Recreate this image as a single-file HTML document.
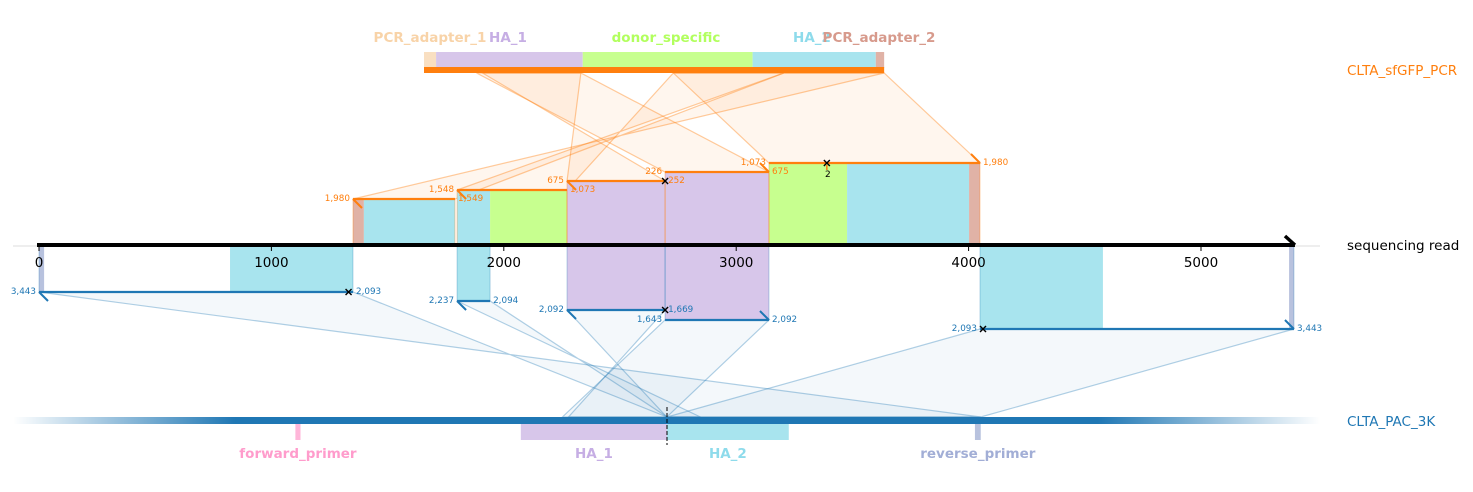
<!DOCTYPE html>
<html><head><meta charset="utf-8"><style>
html,body{margin:0;padding:0;background:#fff;}
svg{display:block;font-family:"DejaVu Sans","Liberation Sans",sans-serif;}
</style></head><body>
<svg id="chart" width="1473" height="492" viewBox="0 0 1473 492" xmlns="http://www.w3.org/2000/svg"></svg>
<script>
// ---- data ----
const axisTicks = [0, 1000, 2000, 3000, 4000, 5000];
const readLength = 5400;
const topFeatNames = ["PCR_adapter_1","HA_1","donor_specific","HA_2","PCR_adapter_2"];
const topFeatStart = [0, 52, 683, 1414, 1944];
const topFeatEnd   = [52, 683, 1414, 1944, 1980];
const topFeatLabelX = [430, 508, 666, 812, 879];
const botFeatNames = ["forward_primer","HA_1","HA_2","reverse_primer"];
const botFeatStart = [494, 1464, 2093, 3418];
const botFeatEnd   = [516, 2093, 2617, 3443];
const topReadStart = [1351, 1799, 2272, 2694, 3141];
const topReadEnd   = [1790, 2272, 2694, 3141, 4049];
const topRefStart  = [1980, 1548, 675, 226, 1073];
const topRefEnd    = [1549, 1073, 252, 675, 1980];
const topStartLbl = ["1,980","1,548","675","226","1,073"];
const topEndLbl   = ["1,549","1,073","252","675","1,980"];
const botReadStart = [0, 1799, 2272, 2694, 4049];
const botReadEnd   = [1351, 1941, 2694, 3141, 5400];
const botRefStart  = [3443, 2237, 2092, 1643, 2093];
const botRefEnd    = [2093, 2094, 1669, 2092, 3443];
const botStartLbl = ["3,443","2,237","2,092","1,643","2,093"];
const botEndLbl   = ["2,093","2,094","1,669","2,092","3,443"];
const topFillStart = [1351, 1398, 1799, 1941, 2272, 2694, 3141, 3477, 4002];
const topFillEnd   = [1398, 1790, 1941, 2272, 2694, 3141, 3477, 4002, 4049];
const topFillFeat  = [4, 3, 3, 2, 1, 1, 2, 3, 4];
const botFillStart = [0, 822, 1799, 2272, 2694, 4049, 5379];
const botFillEnd   = [22, 1351, 1941, 2694, 3141, 4578, 5400];
const botFillFeat  = [3, 2, 2, 1, 1, 2, 3];
const topMarkRead = [3390, 2694];
const topMarkRow  = [4, 2];
const botMarkRead = [1332, 2694, 4062];
const botMarkRow  = [0, 2, 4];

// ---- scales ----
const xs = v => 39 + v * 0.2324;
const xTopRef = r => 424 + r * 0.2324;
const xBotRef = r => 667 + (r - 2093) * 0.2324;
const axisY = 245, topRefY = 73, botRefY = 417;
const topRowY = [199, 190, 181, 172, 163];
const botRowY = [292, 301, 310, 320, 329];
const topColors = ["#f9dfc1","#d7c6ea","#c7ff8f","#a8e4ee","#e0b2a6"];
const topLblColors = ["#f8d3a8","#c6aee4","#b2ff5e","#8edbeb","#d79a8c"];
const botColors = ["#ffb6d9","#d7c6ea","#a8e4ee","#b8c2de"];
const botLblColors = ["#ff9ccc","#c6aee4","#8edbeb","#a2aed6"];
const ORANGE = "#ff7f0e", BLUE = "#1f77b4";

const svg = document.getElementById('chart');
const NS = "http://www.w3.org/2000/svg";
function mk(tag, attrs, parent) {
  const e = document.createElementNS(NS, tag);
  for (const k in attrs) e.setAttribute(k, attrs[k]);
  (parent || svg).appendChild(e);
  return e;
}
function txt(x, y, s, size, fill, anchor, parent) {
  const t = mk('text', {x: x, y: y, 'font-size': size, fill: fill, 'text-anchor': anchor || 'start', 'dominant-baseline': 'central'}, parent);
  t.textContent = s;
  return t;
}

const defs = mk('defs', {});
const lg = mk('linearGradient', {id: 'bg', x1: '0', x2: '1', y1: '0', y2: '0'}, defs);
mk('stop', {offset: '0', 'stop-color': BLUE, 'stop-opacity': '0'}, lg);
mk('stop', {offset: '0.17', 'stop-color': BLUE, 'stop-opacity': '1'}, lg);
mk('stop', {offset: '0.83', 'stop-color': BLUE, 'stop-opacity': '1'}, lg);
mk('stop', {offset: '1', 'stop-color': BLUE, 'stop-opacity': '0'}, lg);

for (let i = 0; i < topReadStart.length; i++) {
  const p = mk('polygon', {points: `${xs(topReadStart[i])},${topRowY[i]} ${xs(topReadEnd[i])},${topRowY[i]} ${xTopRef(topRefEnd[i])},${topRefY} ${xTopRef(topRefStart[i])},${topRefY}`,
    fill: ORANGE, 'fill-opacity': 0.07, stroke: ORANGE, 'stroke-opacity': 0.4, 'stroke-width': 1.2});
  
  
}
for (let i = 0; i < botReadStart.length; i++) {
  const p = mk('polygon', {points: `${xs(botReadStart[i])},${botRowY[i]} ${xs(botReadEnd[i])},${botRowY[i]} ${xBotRef(botRefEnd[i])},${botRefY} ${xBotRef(botRefStart[i])},${botRefY}`,
    fill: BLUE, 'fill-opacity': 0.05, stroke: BLUE, 'stroke-opacity': 0.35, 'stroke-width': 1.2});
  
  
}

function rowOf(arrS, arrE, v) { for (let i = 0; i < arrS.length; i++) if (v >= arrS[i] - 1 && v < arrE[i]) return i; return 0; }
for (let i = 0; i < topFillStart.length; i++) {
  const r = rowOf(topReadStart, topReadEnd, topFillStart[i]);
  const f = mk('rect', {x: xs(topFillStart[i]), y: topRowY[r], width: xs(topFillEnd[i]) - xs(topFillStart[i]), height: axisY - topRowY[r], fill: topColors[topFillFeat[i]]});
  
  
}
for (let i = 0; i < botFillStart.length; i++) {
  const r = rowOf(botReadStart, botReadEnd, botFillStart[i]);
  const f = mk('rect', {x: xs(botFillStart[i]), y: axisY, width: xs(botFillEnd[i]) - xs(botFillStart[i]), height: botRowY[r] - axisY, fill: botColors[botFillFeat[i]]});
  
  
}
for (let i = 0; i < topReadStart.length; i++) {
  const o = mk('rect', {x: xs(topReadStart[i]), y: topRowY[i], width: xs(topReadEnd[i]) - xs(topReadStart[i]), height: axisY - topRowY[i], fill: 'none', stroke: ORANGE, 'stroke-opacity': 0.35, 'stroke-width': 1});
  
  
}
for (let i = 0; i < botReadStart.length; i++) {
  const o = mk('rect', {x: xs(botReadStart[i]), y: axisY, width: xs(botReadEnd[i]) - xs(botReadStart[i]), height: botRowY[i] - axisY, fill: 'none', stroke: BLUE, 'stroke-opacity': 0.3, 'stroke-width': 1});
  
  
}

for (let i = 0; i < topReadStart.length; i++) {
  const x1 = xs(topReadStart[i]), x2 = xs(topReadEnd[i]), y = topRowY[i];
  const l = mk('line', {x1: x1, x2: x2, y1: y, y2: y, stroke: ORANGE, 'stroke-width': 2.2});
  
  
  const fwd = topRefEnd[i] > topRefStart[i];
  if (fwd) mk('line', {x1: x2 - 9, y1: y - 9, x2: x2, y2: y, stroke: ORANGE, 'stroke-width': 2});
  else mk('line', {x1: x1, y1: y, x2: x1 + 9, y2: y + 9, stroke: ORANGE, 'stroke-width': 2});
  const a = txt(x1 - 3, y, topStartLbl[i], 8.8, ORANGE, 'end');
  
  
  const b = txt(x2 + 3, y, topEndLbl[i], 8.8, ORANGE, 'start');
  
  
}
for (let i = 0; i < botReadStart.length; i++) {
  const x1 = xs(botReadStart[i]), x2 = xs(botReadEnd[i]), y = botRowY[i];
  const l = mk('line', {x1: x1, x2: x2, y1: y, y2: y, stroke: BLUE, 'stroke-width': 2.2});
  
  
  const fwd = botRefEnd[i] > botRefStart[i];
  if (fwd) mk('line', {x1: x2 - 9, y1: y - 9, x2: x2, y2: y, stroke: BLUE, 'stroke-width': 2});
  else mk('line', {x1: x1, y1: y, x2: x1 + 9, y2: y + 9, stroke: BLUE, 'stroke-width': 2});
  const a = txt(x1 - 3, y, botStartLbl[i], 8.8, BLUE, 'end');
  
  
  const b = txt(x2 + 3, y, botEndLbl[i], 8.8, BLUE, 'start');
  
  
}
function xMark(cx, cy, name) {
  const g = mk('g', {stroke: '#000', 'stroke-width': 1.4});
  
  
  mk('line', {x1: cx - 3, y1: cy - 3, x2: cx + 3, y2: cy + 3}, g);
  mk('line', {x1: cx - 3, y1: cy + 3, x2: cx + 3, y2: cy - 3}, g);
}
for (let i = 0; i < topMarkRead.length; i++) xMark(xs(topMarkRead[i]), topRowY[topMarkRow[i]], 'top-marker');
for (let i = 0; i < botMarkRead.length; i++) xMark(xs(botMarkRead[i]), botRowY[botMarkRow[i]], 'bottom-marker');
mk('line', {x1: xs(topMarkRead[0]), y1: 165, x2: xs(topMarkRead[0]), y2: 170, stroke: ORANGE, 'stroke-width': 1.5});
const two = txt(xs(topMarkRead[0]) + 1, 175, '2', 9, '#000', 'middle');



mk('line', {x1: 13, x2: 1320, y1: axisY + 1, y2: axisY + 1, stroke: '#ddd', 'stroke-width': 1});
const ax = mk('line', {x1: xs(0) - 2, x2: xs(readLength) + 1, y1: axisY, y2: axisY, stroke: '#000', 'stroke-width': 4});


mk('line', {x1: xs(readLength) - 9, y1: axisY - 9, x2: xs(readLength) + 1, y2: axisY, stroke: '#000', 'stroke-width': 3.5});
for (const t of axisTicks) {
  mk('line', {x1: xs(t), x2: xs(t), y1: axisY, y2: axisY + 6, stroke: '#000', 'stroke-width': 1});
  const tl = txt(xs(t), axisY + 18, String(t), 13.5, '#000', 'middle');
  
  
}

for (let i = 0; i < topFeatNames.length; i++) {
  const r = mk('rect', {x: xTopRef(topFeatStart[i]), y: 52, width: xTopRef(topFeatEnd[i]) - xTopRef(topFeatStart[i]), height: 16, fill: topColors[i]});
  
  
  const l = txt(topFeatLabelX[i], 38, topFeatNames[i], 13.5, topLblColors[i], 'middle');
  l.setAttribute('font-weight', 'bold');
  
  
}
const tb = mk('rect', {x: xTopRef(0), y: 67, width: xTopRef(1980) - xTopRef(0), height: 6, fill: ORANGE});


const tn = txt(1347, 71, 'CLTA_sfGFP_PCR', 13.5, ORANGE, 'start');


const rn = txt(1347, 246, 'sequencing read', 13.5, '#000', 'start');



const bb = mk('rect', {x: 13, y: 417, width: 1307, height: 7, fill: 'url(#bg)'});


for (let i = 0; i < botFeatNames.length; i++) {
  const x1 = xBotRef(botFeatStart[i]), x2 = xBotRef(botFeatEnd[i]);
  const r = mk('rect', {x: x1, y: 424, width: x2 - x1, height: 16, fill: botColors[i]});
  
  
  const l = txt((x1 + x2) / 2, 454, botFeatNames[i], 13.5, botLblColors[i], 'middle');
  l.setAttribute('font-weight', 'bold');
  
  
}
const cut = mk('line', {x1: 667, x2: 667, y1: 407, y2: 445, stroke: '#000', 'stroke-width': 1, 'stroke-dasharray': '4,2'});


const bn = txt(1347, 422, 'CLTA_PAC_3K', 13.5, BLUE, 'start');


</script>
</body></html>
